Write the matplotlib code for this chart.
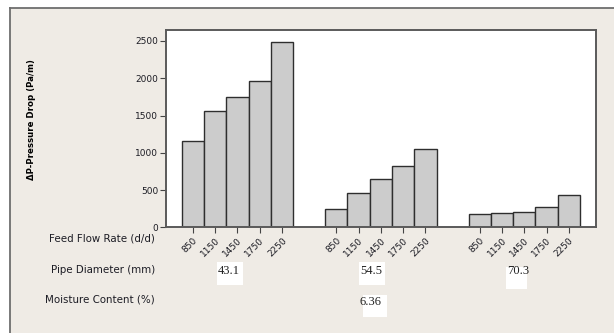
import matplotlib
matplotlib.use("Agg")
import matplotlib.pyplot as plt
from matplotlib.patches import Rectangle

# ---------------------------------------------------------------------------
# Data
# ---------------------------------------------------------------------------
flow_rates = ["850", "1150", "1450", "1750", "2250"]
pipe_diameters = ["43.1", "54.5", "70.3"]
moisture_content = "6.36"

drop_d43 = [1160, 1560, 1745, 1965, 2490]
drop_d54 = [245, 465, 645, 825, 1045]
drop_d70 = [175, 195, 210, 275, 435]
pressure_drop = [drop_d43, drop_d54, drop_d70]

# ---------------------------------------------------------------------------
# Layout (pixels on a 614x333 canvas)
# ---------------------------------------------------------------------------
W, H = 614, 333
BG = "#efebe5"
BAR_FILL = "#cccccc"
TEXT = "#1c1c24"


def fx(px):
    return px / W


def fy(py):
    return 1 - py / H


def white_patch(x0, y0, x1, y1):
    fig.patches.append(Rectangle((fx(x0), fy(y1)), fx(x1) - fx(x0), fy(y0) - fy(y1),
                                 transform=fig.transFigure, facecolor="white",
                                 edgecolor="none", zorder=-1))


fig = plt.figure(figsize=(W / 100, H / 100), dpi=100)
fig.patch.set_facecolor("white")

# beige panel with a grey frame on top/left
fig.patches.append(Rectangle((fx(9.5), 0), 1, fy(7.5), transform=fig.transFigure,
                             facecolor=BG, edgecolor="none", zorder=-2))
fig.lines.append(plt.Line2D([fx(9.5), 1], [fy(7.5), fy(7.5)], transform=fig.transFigure,
                            color="#6e6e6e", lw=1.3))
fig.lines.append(plt.Line2D([fx(9.5), fx(9.5)], [0, fy(7.5)], transform=fig.transFigure,
                            color="#6e6e6e", lw=1.3))

ax = fig.add_axes([fx(165.7), fy(227.3), fx(595.7) - fx(165.7), fy(30) - fy(227.3)])
ax.set_facecolor("white")

# bar width = 1 unit; groups separated by a gap of 1.43 units
first_left = 0.717
group_step = 5 + 1.43
xlim_right = 19.28

centers = []
labels = []
for g, values in enumerate(pressure_drop):
    xs = [first_left + g * group_step + 0.5 + i for i in range(len(values))]
    ax.bar(xs, values, width=1.0, color=BAR_FILL, edgecolor="#2e2e2e", linewidth=1.0)
    centers += xs
    labels += flow_rates

ax.set_xlim(0, xlim_right)
ax.set_ylim(0, 2647.6)
ax.set_yticks([0, 500, 1000, 1500, 2000, 2500])
ax.set_xticks(centers)
ax.set_xticklabels(labels, rotation=45, ha="right", va="top", rotation_mode="anchor",
                   fontsize=6.5, color=TEXT)
ax.tick_params(axis="y", labelsize=6.5, labelcolor=TEXT, length=4, width=0.8,
               color="#444444", pad=1.5)
ax.tick_params(axis="x", length=4, width=0.8, color="#444444", pad=2)
for s in ax.spines.values():
    s.set_color("#5a5a5a")
    s.set_linewidth(1.4)

fig.text(fx(31.7), fy(120), "ΔP-Pressure Drop (Pa/m)", rotation=90, fontsize=6.2,
         fontweight="bold", color="black", ha="center", va="center")

# row labels on the left
row_font = dict(fontsize=7.4, color=TEXT, ha="right", va="center")
fig.text(fx(155), fy(238.5), "Feed Flow Rate (d/d)", **row_font)
fig.text(fx(155), fy(270), "Pipe Diameter (mm)", **row_font)
fig.text(fx(155), fy(300), "Moisture Content (%)", **row_font)

# factor levels on white patches
level_boxes = [(216.7, 262, 243.3, 285), (359, 262.3, 385, 285), (505.7, 267.3, 526.7, 289.3)]
level_pos = [(229, 271), (371.5, 271), (518, 271)]
for box, (tx, ty), text in zip(level_boxes, level_pos, pipe_diameters):
    white_patch(*box)
    fig.text(fx(tx), fy(ty), text, family="Liberation Serif", fontsize=9,
             color="#222222", ha="center", va="center")

white_patch(362.7, 295, 387.3, 317.3)
fig.text(fx(370.7), fy(302), moisture_content, family="Liberation Serif", fontsize=9,
         color="#222222", ha="center", va="center")

fig.savefig("out.png", dpi=100, facecolor=fig.get_facecolor())
